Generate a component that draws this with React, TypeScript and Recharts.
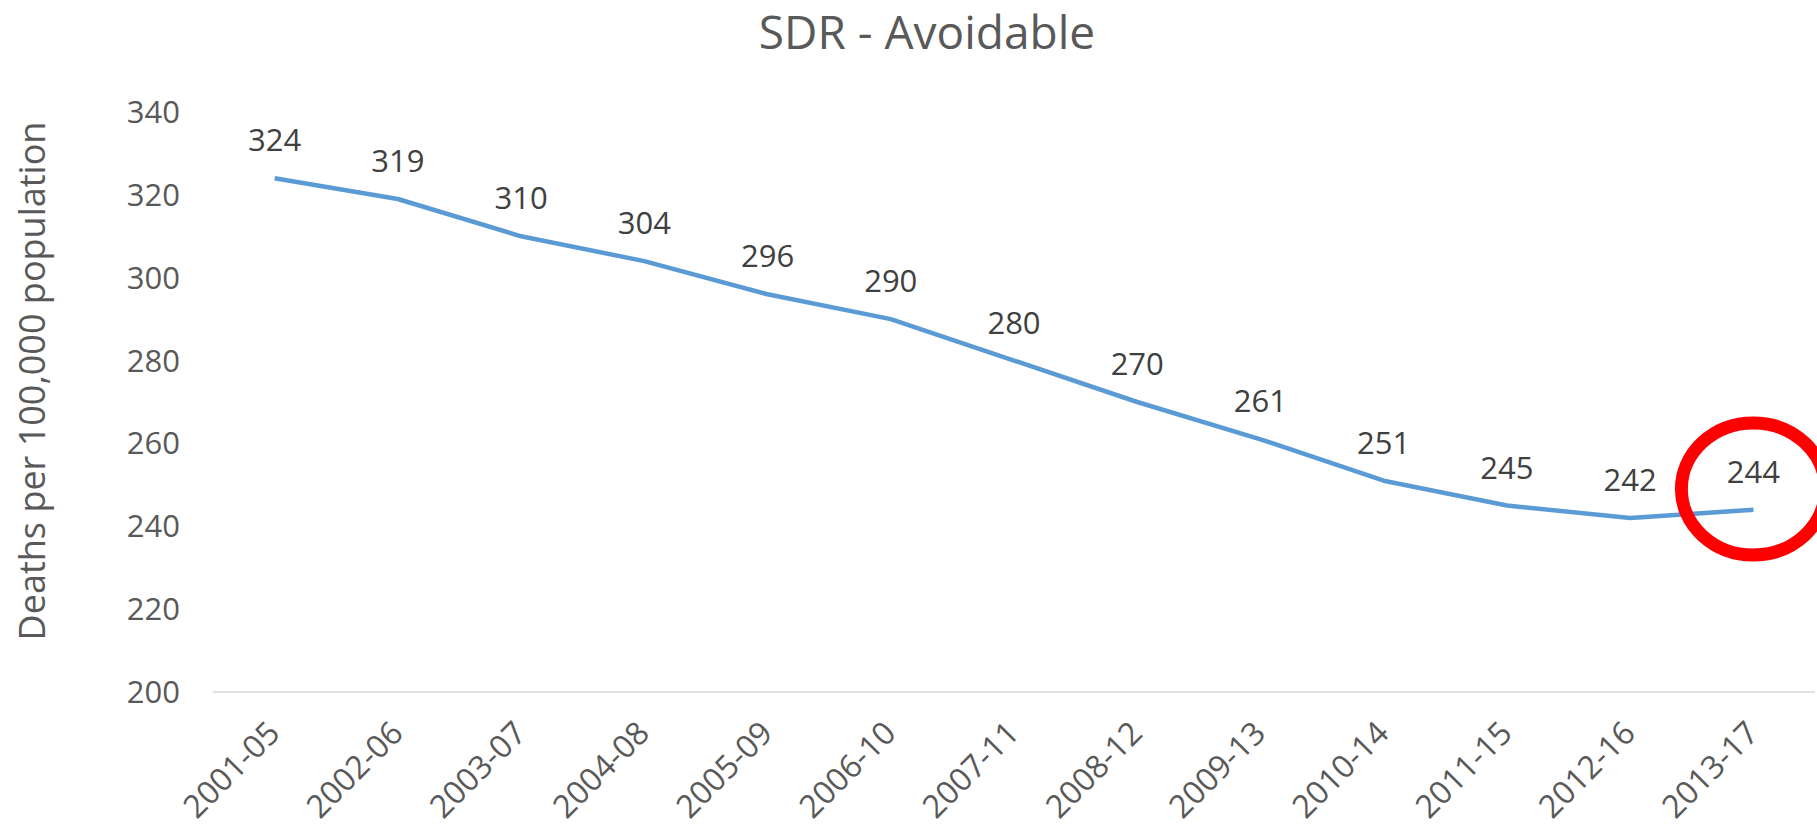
import React from 'react';
import { LineChart, Line, XAxis, YAxis, LabelList, ReferenceDot } from 'recharts';

const periods = [
  '2001-05', '2002-06', '2003-07', '2004-08', '2005-09', '2006-10', '2007-11',
  '2008-12', '2009-13', '2010-14', '2011-15', '2012-16', '2013-17',
];
const avoidable = [324, 319, 310, 304, 296, 290, 280, 270, 261, 251, 245, 242, 244];
const yTicks = [200, 220, 240, 260, 280, 300, 320, 340];
const highlightPeriod = '2013-17';
const highlightValue = 249;

const data = periods.map((p, i) => ({ period: p, value: avoidable[i] }));

const FONT = '"Open Sans", sans-serif';
const GREY = '#595959';

const XTick = (props: any) => {
  const { x, y, payload } = props;
  return (
    <g transform={`translate(${x},${y})`}>
      <text
        x={7}
        y={43}
        transform="rotate(-45, 7, 43)"
        textAnchor="end"
        fill={GREY}
        fontSize={32}
        fontFamily={FONT}
      >
        {payload.value}
      </text>
    </g>
  );
};

const Ring = (props: any) => (
  <ellipse cx={props.cx} cy={props.cy} rx={72} ry={66} fill="none" stroke="#FF0000" strokeWidth={13} />
);

const App = () => {
  return (
    <div style={{ position: 'absolute', left: 0, top: 0, width: 1817, height: 831, background: '#fff' }}>
      <LineChart
        width={1817}
        height={831}
        data={data}
        margin={{ top: 112, right: 2, left: 0, bottom: 0 }}
      >
        <XAxis
          dataKey="period"
          height={139}
          padding={{ left: 61.6, right: 61.6 }}
          axisLine={{ stroke: '#D9D9D9', strokeWidth: 1.5 }}
          tickLine={false}
          tickSize={0}
          tickMargin={0}
          interval={0}
          tick={<XTick />}
        />
        <YAxis
          width={213}
          domain={[200, 340]}
          ticks={yTicks}
          axisLine={false}
          tickLine={false}
          tickSize={0}
          tickMargin={33}
          tick={{ fill: GREY, fontSize: 31, fontFamily: FONT }}
        />
        <Line
          type="linear"
          dataKey="value"
          stroke="#5B9BD5"
          strokeWidth={4.5}
          strokeLinejoin="round"
          dot={false}
          isAnimationActive={false}
        >
          <LabelList dataKey="value" position="top" offset={27} fill="#404040" fontSize={31} fontFamily={FONT} />
        </Line>
        <ReferenceDot x={highlightPeriod} y={highlightValue} r={70} shape={<Ring />} />
      </LineChart>
      <svg
        width={1817}
        height={831}
        style={{ position: 'absolute', left: 0, top: 0, pointerEvents: 'none' }}
      >
        <text x={927} y={49} textAnchor="middle" fill={GREY} fontSize={46} fontFamily={FONT}>
          SDR - Avoidable
        </text>
        <text
          x={45}
          y={381}
          transform="rotate(-90, 45, 381)"
          textAnchor="middle"
          fill={GREY}
          fontSize={36}
          fontFamily={FONT}
        >
          Deaths per 100,000 population
        </text>
      </svg>
    </div>
  );
};

export default App;
